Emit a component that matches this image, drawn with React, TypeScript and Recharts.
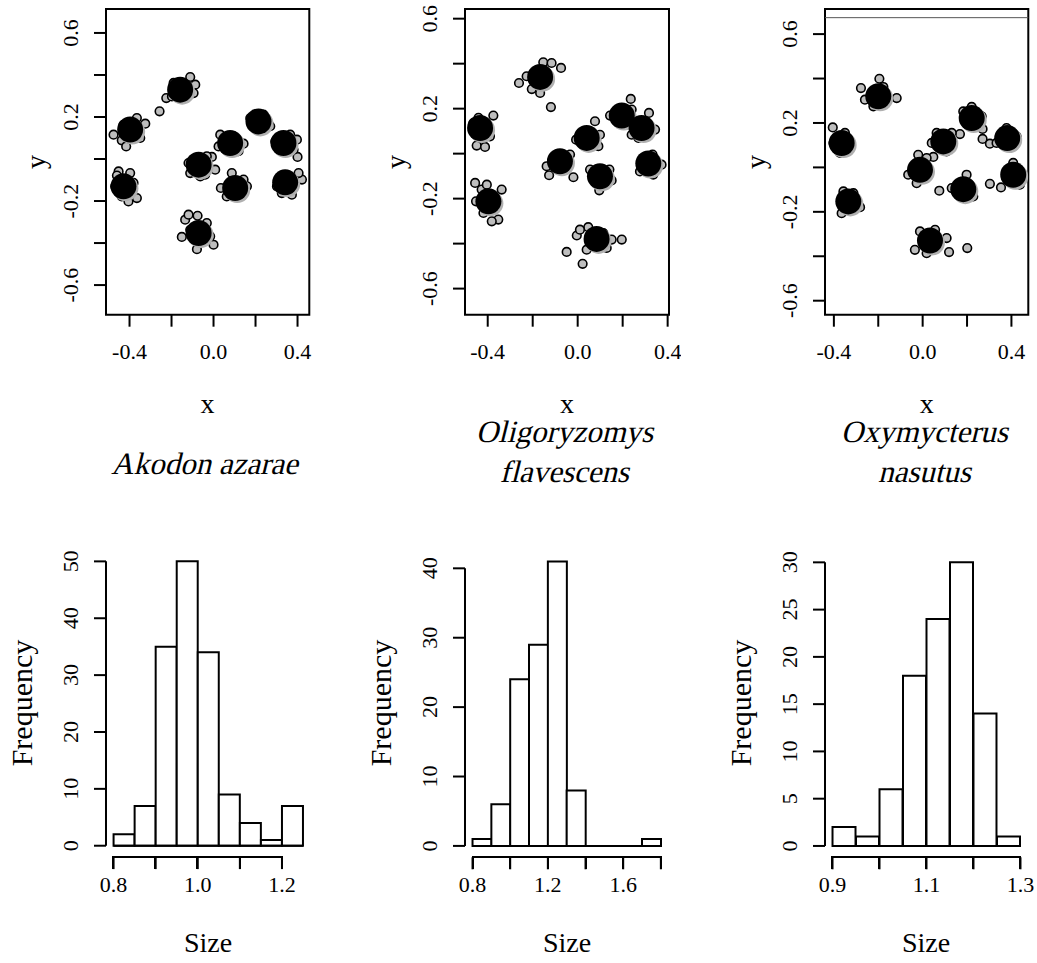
import React from "react";
import {
  ScatterChart,
  Scatter,
  ComposedChart,
  Bar,
  XAxis,
  YAxis,
  ReferenceArea,
  ReferenceLine,
} from "recharts";

// landmark configurations after superimposition: one big dot per landmark mean,
// small grey dots for the specimens we could make out around each blob
type Pt = [number, number];

const akodonMeans: Pt[] = [
  [-0.397, 0.14], [-0.159, 0.33], [-0.429, -0.13], [-0.071, -0.027], [-0.071, -0.352],
  [0.079, 0.076], [0.103, -0.138], [0.214, 0.179], [0.333, 0.076], [0.341, -0.111],
];
const akodonPoints: Pt[] = [
  [-0.476, 0.116], [-0.437, 0.089], [-0.416, 0.06], [-0.365, 0.195], [-0.325, 0.168], [-0.349, 0.1], [-0.429, 0.163], [-0.373, 0.124],
  [-0.257, 0.227], [-0.225, 0.29], [-0.198, 0.298], [-0.111, 0.39], [-0.087, 0.354], [-0.19, 0.362], [-0.135, 0.29], [-0.095, 0.314],
  [-0.452, -0.059], [-0.46, -0.079], [-0.405, -0.202], [-0.365, -0.186], [-0.381, -0.114], [-0.468, -0.13], [-0.437, -0.178], [-0.397, -0.067],
  [-0.111, -0.067], [-0.063, -0.083], [-0.008, 0.01], [0.008, -0.051], [-0.119, -0.019], [-0.032, 0.013], [-0.04, -0.075],
  [-0.135, -0.289], [-0.119, -0.265], [-0.076, -0.27], [-0.151, -0.371], [-0.079, -0.429], [0.0, -0.408], [-0.032, -0.305], [-0.111, -0.337], [-0.016, -0.368],
  [0.143, 0.073], [0.032, 0.116], [0.119, 0.037], [0.024, 0.06], [0.095, 0.108],
  [0.087, -0.067], [0.035, -0.138], [0.159, -0.13], [0.063, -0.178], [0.143, -0.098],
  [0.175, 0.195], [0.27, 0.156], [0.238, 0.211], [0.206, 0.14],
  [0.4, 0.01], [0.381, 0.044], [0.294, 0.084], [0.397, 0.092], [0.365, 0.116],
  [0.421, -0.098], [0.373, -0.17], [0.302, -0.13], [0.405, -0.067], [0.325, -0.162],
];

const oligoMeans: Pt[] = [
  [-0.434, 0.114], [-0.167, 0.341], [-0.397, -0.212], [-0.079, -0.034], [0.084, -0.379],
  [0.04, 0.07], [0.099, -0.101], [0.196, 0.169], [0.284, 0.114], [0.314, -0.044],
];
const oligoPoints: Pt[] = [
  [-0.375, 0.169], [-0.449, 0.036], [-0.412, 0.03], [-0.464, 0.136], [-0.39, 0.077], [-0.441, 0.159],
  [-0.261, 0.314], [-0.153, 0.406], [-0.116, 0.403], [-0.074, 0.381], [-0.119, 0.207], [-0.204, 0.287], [-0.167, 0.27], [-0.227, 0.344],
  [-0.456, -0.13], [-0.427, -0.16], [-0.404, -0.138], [-0.338, -0.16], [-0.452, -0.212], [-0.353, -0.293], [-0.382, -0.301], [-0.419, -0.264],
  [-0.127, -0.096], [-0.019, -0.105], [-0.138, -0.056], [-0.034, -0.004], [-0.064, -0.071],
  [-0.049, -0.437], [0.022, -0.49], [-0.004, -0.364], [0.047, -0.327], [0.01, -0.338], [0.196, -0.382], [0.151, -0.382], [0.04, -0.427], [0.129, -0.419], [0.114, -0.353],
  [0.077, 0.144], [-0.007, 0.062], [0.092, 0.033], [0.099, 0.084],
  [0.141, -0.071], [0.151, -0.119], [0.096, -0.163], [0.055, -0.071],
  [0.236, 0.243], [0.144, 0.169], [0.24, 0.196], [0.218, 0.129],
  [0.317, 0.181], [0.24, 0.084], [0.344, 0.107], [0.27, 0.07],
  [0.333, -0.004], [0.373, -0.049], [0.277, -0.079], [0.336, -0.093],
];

const oxyMeans: Pt[] = [
  [-0.365, 0.11], [-0.2, 0.32], [-0.335, -0.153], [-0.012, -0.011], [0.033, -0.329],
  [0.093, 0.117], [0.183, -0.098], [0.221, 0.222], [0.381, 0.132], [0.408, -0.033],
];
const oxyPoints: Pt[] = [
  [-0.405, 0.18], [-0.35, 0.155], [-0.402, 0.11], [-0.327, 0.087], [-0.372, 0.065],
  [-0.278, 0.357], [-0.195, 0.399], [-0.117, 0.312], [-0.26, 0.305], [-0.222, 0.275], [-0.177, 0.362],
  [-0.365, -0.206], [-0.282, -0.179], [-0.357, -0.108], [-0.312, -0.116],
  [-0.02, 0.057], [0.048, 0.047], [-0.027, -0.071], [-0.065, -0.033], [0.018, 0.042],
  [-0.035, -0.371], [0.119, -0.381], [0.201, -0.363], [-0.012, -0.288], [0.108, -0.318], [0.056, -0.281], [0.018, -0.386],
  [0.168, 0.15], [0.041, 0.11], [0.063, 0.155], [0.131, 0.155], [0.108, 0.072],
  [0.075, -0.105], [0.198, -0.033], [0.131, -0.093], [0.228, -0.131],
  [0.27, 0.173], [0.183, 0.252], [0.221, 0.272], [0.266, 0.23],
  [0.27, 0.128], [0.303, 0.107], [0.333, 0.11], [0.423, 0.14], [0.378, 0.177],
  [0.303, -0.074], [0.353, -0.09], [0.438, -0.078], [0.408, 0.02], [0.446, -0.026],
];
// the stray thin line near the top of the third scatter
const oxyTopLine = 0.674;

// scatter axes (R prints every other label)
const scatterXTicks = [-0.4, -0.2, 0, 0.2, 0.4];
const scatterXLabels = ["-0.4", "", "0.0", "", "0.4"];
const scatterYTicks = [-0.6, -0.4, -0.2, 0, 0.2, 0.4, 0.6];
const scatterYLabels = ["-0.6", "", "-0.2", "", "0.2", "", "0.6"];

// centroid size histograms
const akodonBreaks = [0.8, 0.85, 0.9, 0.95, 1.0, 1.05, 1.1, 1.15, 1.2, 1.25];
const akodonCounts = [2, 7, 35, 50, 34, 9, 4, 1, 7];
const akodonSizeTicks = [0.8, 0.9, 1.0, 1.1, 1.2];
const akodonSizeLabels = ["0.8", "", "1.0", "", "1.2"];
const akodonFreqTicks = [0, 10, 20, 30, 40, 50];

const oligoBreaks = [0.8, 0.9, 1.0, 1.1, 1.2, 1.3, 1.4, 1.5, 1.6, 1.7, 1.8];
const oligoCounts = [1, 6, 24, 29, 41, 8, 0, 0, 0, 1];
const oligoSizeTicks = [0.8, 1.0, 1.2, 1.4, 1.6, 1.8];
const oligoSizeLabels = ["0.8", "", "1.2", "", "1.6", ""];
const oligoFreqTicks = [0, 10, 20, 30, 40];

const oxyBreaks = [0.9, 0.95, 1.0, 1.05, 1.1, 1.15, 1.2, 1.25, 1.3];
const oxyCounts = [2, 1, 6, 18, 24, 30, 14, 1];
const oxySizeTicks = [0.9, 1.0, 1.1, 1.2, 1.3];
const oxySizeLabels = ["0.9", "", "1.1", "", "1.3"];
const oxyFreqTicks = [0, 5, 10, 15, 20, 25, 30];

const FONT = '"Liberation Serif", "Times New Roman", serif';
const TICK_FONT = 22;

type Box = { left: number; top: number; right: number; bottom: number };

// the plot regions as R laid them out
const scatterBoxes: Box[] = [
  { left: 105.7, top: 9.3, right: 309, bottom: 315 },
  { left: 465, top: 9.3, right: 669, bottom: 315 },
  { left: 825, top: 9.3, right: 1028.3, bottom: 315 },
];
const histBoxes: Box[] = [
  { left: 105.7, top: 550.2, right: 310.3, bottom: 857.3 },
  { left: 465.2, top: 550, right: 668.6, bottom: 857.3 },
  { left: 824.5, top: 551, right: 1027.5, bottom: 857.3 },
];
const histXDomains: [number, number][] = [
  [0.782, 1.268],
  [0.76, 1.84],
  [0.884, 1.316],
];

const TS = 12; // tick length

function labelFor(ticks: number[], labels: string[], v: number) {
  const i = ticks.findIndex((t) => Math.abs(t - v) < 1e-9);
  return i >= 0 ? labels[i] : "";
}

function xTick(ticks: number[], labels: string[]) {
  return (p: any) => (
    <text x={p.x} y={p.y} textAnchor="middle" fontSize={TICK_FONT} fontFamily={FONT} fill="#000">
      {labelFor(ticks, labels, p.payload.value)}
    </text>
  );
}

function yTick(ticks: number[], labels: string[]) {
  return (p: any) => (
    <text
      x={p.x}
      y={p.y}
      transform={`rotate(-90 ${p.x} ${p.y})`}
      textAnchor="middle"
      fontSize={TICK_FONT}
      fontFamily={FONT}
      fill="#000"
    >
      {labelFor(ticks, labels, p.payload.value)}
    </text>
  );
}

const specimenShape = (p: any) => (
  <circle cx={p.cx} cy={p.cy} r={4.3} fill="#bebebe" stroke="#000" strokeWidth={1.6} />
);
const meanShape = (p: any) => (
  <g>
    <circle cx={p.cx + 2} cy={p.cy + 2} r={13} fill="#b0b0b0" />
    <circle cx={p.cx} cy={p.cy} r={13} fill="#000" />
  </g>
);

const YW = 100;
const MT = 9;
const MR = 12;
const XH = 70;
const tickLine = { stroke: "#000", strokeWidth: 2 };

function ScatterPanel({
  box,
  xDomain,
  yDomain,
  means,
  points,
  topLine,
}: {
  box: Box;
  xDomain: [number, number];
  yDomain: [number, number];
  means: Pt[];
  points: Pt[];
  topLine?: number;
}) {
  const w = YW + (box.right - box.left) + MR;
  const h = MT + (box.bottom - box.top) + XH;
  const pts = points.map(([x, y]) => ({ x, y }));
  const mns = means.map(([x, y]) => ({ x, y }));
  return (
    <div style={{ position: "absolute", left: box.left - YW, top: box.top - MT }}>
      <ScatterChart width={w} height={h} margin={{ top: MT, right: MR, bottom: 0, left: 0 }}>
        <XAxis
          type="number"
          dataKey="x"
          domain={xDomain}
          allowDataOverflow
          ticks={scatterXTicks}
          interval={0}
          height={XH}
          tickSize={TS}
          tickMargin={32}
          axisLine={false}
          tickLine={tickLine}
          tick={xTick(scatterXTicks, scatterXLabels)}
        />
        <YAxis
          type="number"
          dataKey="y"
          domain={yDomain}
          allowDataOverflow
          ticks={scatterYTicks}
          interval={0}
          width={YW}
          tickSize={TS}
          tickMargin={16}
          axisLine={false}
          tickLine={tickLine}
          tick={yTick(scatterYTicks, scatterYLabels)}
        />
        <Scatter data={pts} shape={specimenShape} isAnimationActive={false} />
        <Scatter data={mns} shape={meanShape} isAnimationActive={false} />
        {topLine !== undefined && (
          <ReferenceLine y={topLine} stroke="#555" strokeWidth={1} ifOverflow="visible" />
        )}
        <ReferenceArea
          x1={xDomain[0]}
          x2={xDomain[1]}
          y1={yDomain[0]}
          y2={yDomain[1]}
          fill="none"
          stroke="#000"
          strokeWidth={2}
          ifOverflow="visible"
        />
      </ScatterChart>
    </div>
  );
}

function HistPanel({
  box,
  breaks,
  counts,
  xDomain,
  yDomain,
  xTicks,
  xLabels,
  yTicks,
}: {
  box: Box;
  breaks: number[];
  counts: number[];
  xDomain: [number, number];
  yDomain: [number, number];
  xTicks: number[];
  xLabels: string[];
  yTicks: number[];
}) {
  const plotW = box.right - box.left;
  const plotH = box.bottom - box.top;
  const w = YW + plotW + MR;
  const h = MT + plotH + XH;
  const pxPerUnit = plotW / (xDomain[1] - xDomain[0]);
  const padL = (breaks[0] - xDomain[0]) * pxPerUnit;
  const padR = (xDomain[1] - breaks[breaks.length - 1]) * pxPerUnit;
  const data = counts.map((c, i) => ({ bin: `${breaks[i]}-${breaks[i + 1]}`, count: c }));
  const yLabels = yTicks.map((t) => String(t));
  const pos = { position: "absolute" as const, left: box.left - YW, top: box.top - MT };
  return (
    <>
      {/* the bins, placed on a hidden band axis */}
      <div style={pos}>
        <ComposedChart
          width={w}
          height={h}
          data={data}
          margin={{ top: MT, right: MR, bottom: XH, left: 0 }}
          barCategoryGap={0}
          barGap={0}
        >
          <XAxis xAxisId="bins" dataKey="bin" type="category" hide padding={{ left: padL, right: padR }} />
          <YAxis type="number" domain={yDomain} allowDataOverflow width={YW} tick={false} tickLine={false} axisLine={false} />
          <Bar xAxisId="bins" dataKey="count" fill="#fff" stroke="#000" strokeWidth={2} isAnimationActive={false} />
        </ComposedChart>
      </div>
      {/* R style axes on top, on the numeric size scale */}
      <div style={{ ...pos, pointerEvents: "none" }}>
        <ScatterChart width={w} height={h} margin={{ top: MT, right: MR, bottom: 0, left: 0 }}>
          <XAxis
            type="number"
            dataKey="x"
            domain={xDomain}
            allowDataOverflow
            ticks={xTicks}
            interval={0}
            height={XH}
            tickSize={TS}
            tickMargin={23}
            axisLine={false}
            tickLine={tickLine}
            tick={xTick(xTicks, xLabels)}
          />
          <YAxis
            type="number"
            dataKey="y"
            domain={yDomain}
            allowDataOverflow
            ticks={yTicks}
            interval={0}
            width={YW}
            tickSize={TS}
            tickMargin={16}
            axisLine={false}
            tickLine={tickLine}
            tick={yTick(yTicks, yLabels)}
          />
          {/* zero-height bins still leave their bottom edge in R */}
          <ReferenceLine
            segment={[{ x: breaks[0], y: 0 }, { x: breaks[breaks.length - 1], y: 0 }]}
            stroke="#000"
            strokeWidth={2}
            ifOverflow="visible"
          />
          <ReferenceLine
            segment={[{ x: xDomain[0], y: yTicks[0] }, { x: xDomain[0], y: yTicks[yTicks.length - 1] }]}
            stroke="#000"
            strokeWidth={2}
            ifOverflow="visible"
          />
        </ScatterChart>
      </div>
    </>
  );
}

// R's detached x axis under a histogram: a line from the first to the last tick
// plus the tick marks, laid out on the same linear size scale as the chart above
function HistAxisRule({ box, xDomain, xTicks }: { box: Box; xDomain: [number, number]; xTicks: number[] }) {
  const k = (box.right - box.left) / (xDomain[1] - xDomain[0]);
  const px = (v: number) => box.left + (v - xDomain[0]) * k;
  const x0 = px(xTicks[0]);
  const x1 = px(xTicks[xTicks.length - 1]);
  return (
    <>
      <div style={{ position: "absolute", left: x0 - 1, top: box.bottom - 1, width: x1 - x0 + 2, height: 2, background: "#000" }} />
      {xTicks.map((t) => (
        <div
          key={t}
          style={{ position: "absolute", left: px(t) - 1, top: box.bottom - 1, width: 2, height: TS + 1, background: "#000" }}
        />
      ))}
    </>
  );
}

function Lbl({
  x,
  y,
  text,
  size,
  italic,
  rotate,
}: {
  x: number;
  y: number;
  text: string;
  size: number;
  italic?: boolean;
  rotate?: boolean;
}) {
  // the serif italic face is not installed, so we slant the upright one
  const tf = `translate(-50%, -50%)${rotate ? " rotate(-90deg)" : ""}${italic ? " skewX(-14deg)" : ""}`;
  return (
    <div
      style={{
        position: "absolute",
        left: x,
        top: y,
        transform: tf,
        fontFamily: FONT,
        fontSize: size,
        lineHeight: 1,
        whiteSpace: "nowrap",
        color: "#000",
      }}
    >
      {text}
    </div>
  );
}

export default function App() {
  return (
    <div style={{ position: "absolute", left: 0, top: 0, width: 1037, height: 963, background: "#fff" }}>
      <ScatterPanel box={scatterBoxes[0]} xDomain={[-0.512, 0.456]} yDomain={[-0.741, 0.714]} means={akodonMeans} points={akodonPoints} />
      <ScatterPanel box={scatterBoxes[1]} xDomain={[-0.501, 0.406]} yDomain={[-0.716, 0.643]} means={oligoMeans} points={oligoPoints} />
      <ScatterPanel
        box={scatterBoxes[2]}
        xDomain={[-0.44, 0.476]}
        yDomain={[-0.663, 0.713]}
        means={oxyMeans}
        points={oxyPoints}
        topLine={oxyTopLine}
      />

      <HistPanel box={histBoxes[0]} breaks={akodonBreaks} counts={akodonCounts} xDomain={histXDomains[0]} yDomain={[-2, 52]} xTicks={akodonSizeTicks} xLabels={akodonSizeLabels} yTicks={akodonFreqTicks} />
      <HistPanel box={histBoxes[1]} breaks={oligoBreaks} counts={oligoCounts} xDomain={histXDomains[1]} yDomain={[-1.64, 42.64]} xTicks={oligoSizeTicks} xLabels={oligoSizeLabels} yTicks={oligoFreqTicks} />
      <HistPanel box={histBoxes[2]} breaks={oxyBreaks} counts={oxyCounts} xDomain={histXDomains[2]} yDomain={[-1.2, 31.2]} xTicks={oxySizeTicks} xLabels={oxySizeLabels} yTicks={oxyFreqTicks} />

      {/* axis titles */}
      <Lbl x={207.4} y={404} text="x" size={28} />
      <Lbl x={567} y={404} text="x" size={28} />
      <Lbl x={926.7} y={404} text="x" size={28} />
      <Lbl x={36} y={162} text="y" size={28} rotate />
      <Lbl x={396} y={162} text="y" size={28} rotate />
      <Lbl x={756} y={162} text="y" size={28} rotate />

      <Lbl x={22} y={703} text="Frequency" size={30} rotate />
      <Lbl x={381} y={703} text="Frequency" size={30} rotate />
      <Lbl x={741} y={703} text="Frequency" size={30} rotate />
      <Lbl x={208} y={943} text="Size" size={28} />
      <Lbl x={567} y={943} text="Size" size={28} />
      <Lbl x={926} y={943} text="Size" size={28} />

      {/* species titles */}
      <Lbl x={207} y={463} text="Akodon azarae" size={31} italic />
      <Lbl x={567} y={431} text="Oligoryzomys" size={31} italic />
      <Lbl x={567} y={471} text="flavescens" size={31} italic />
      <Lbl x={927} y={431} text="Oxymycterus" size={31} italic />
      <Lbl x={927} y={471} text="nasutus" size={31} italic />

      <HistAxisRule box={histBoxes[0]} xDomain={histXDomains[0]} xTicks={akodonSizeTicks} />
      <HistAxisRule box={histBoxes[1]} xDomain={histXDomains[1]} xTicks={oligoSizeTicks} />
      <HistAxisRule box={histBoxes[2]} xDomain={histXDomains[2]} xTicks={oxySizeTicks} />
    </div>
  );
}
